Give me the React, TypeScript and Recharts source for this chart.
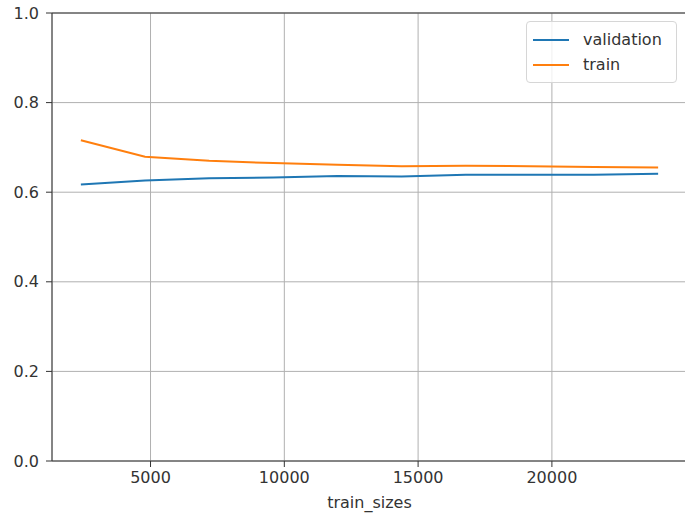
import React from "react";
import { CartesianGrid, Line, LineChart, ReferenceLine, XAxis, YAxis } from "recharts";

const trainSizes = [2397, 4794, 7191, 9588, 11985, 14382, 16779, 19176, 21573, 23970];
const trainScores = [0.716, 0.679, 0.67, 0.665, 0.661, 0.658, 0.659, 0.658, 0.656, 0.655];
const validationScores = [0.617, 0.626, 0.631, 0.633, 0.636, 0.635, 0.639, 0.639, 0.639, 0.641];
const xTicks = [5000, 10000, 15000, 20000];
const yTicks = [0, 0.2, 0.4, 0.6, 0.8, 1.0];

const data = trainSizes.map((size, i) => ({
  size,
  train: trainScores[i],
  validation: validationScores[i],
}));

const series = [
  { key: "validation", color: "#1f77b4" },
  { key: "train", color: "#ff7f0e" },
];

const font = "'DejaVu Sans', sans-serif";
const tickStyle = { fontSize: 16, fill: "#333", fontFamily: font };

function LegendBox() {
  return (
    <div
      style={{
        position: "absolute",
        left: 526,
        top: 21,
        border: "1px solid #d6d6d6",
        borderRadius: 4,
        background: "rgba(255,255,255,0.8)",
        padding: "5px 6px 5px 6px",
        width: 151,
        boxSizing: "border-box",
        fontFamily: font,
        fontSize: 16,
        color: "#333",
      }}
    >
      {series.map((s) => (
        <div key={s.key} style={{ display: "flex", alignItems: "center", height: 25 }}>
          <span style={{ display: "inline-block", width: 36, height: 2, background: s.color, marginRight: 14 }} />
          <span>{s.key}</span>
        </div>
      ))}
    </div>
  );
}

export default function App() {
  return (
    <div style={{ position: "fixed", left: 0, top: 0, width: 685, height: 516, overflow: "hidden", background: "#fff" }}>
      <LineChart width={687} height={516} data={data} margin={{ top: 13, right: 0, bottom: 0, left: 0 }}>
        <CartesianGrid stroke="#b0b0b0" strokeWidth={1} />
        <XAxis
          dataKey="size"
          type="number"
          domain={[1318, 25049]}
          ticks={xTicks}
          height={55}
          tick={tickStyle}
          tickSize={6}
          tickMargin={5}
          stroke="#333"
          allowDataOverflow
          label={{ value: "train_sizes", position: "insideBottom", offset: 8, style: { ...tickStyle, fill: "#333" } }}
        />
        <YAxis
          type="number"
          domain={[0, 1]}
          ticks={yTicks}
          width={52}
          tick={tickStyle}
          tickSize={6}
          tickMargin={7}
          stroke="#333"
          tickFormatter={(v: number) => v.toFixed(1)}
        />
        <ReferenceLine y={1} stroke="#333" strokeWidth={1} />
        {series.map((s) => (
          <Line key={s.key} dataKey={s.key} stroke={s.color} strokeWidth={2} dot={false} isAnimationActive={false} />
        ))}
      </LineChart>
      <LegendBox />
    </div>
  );
}
